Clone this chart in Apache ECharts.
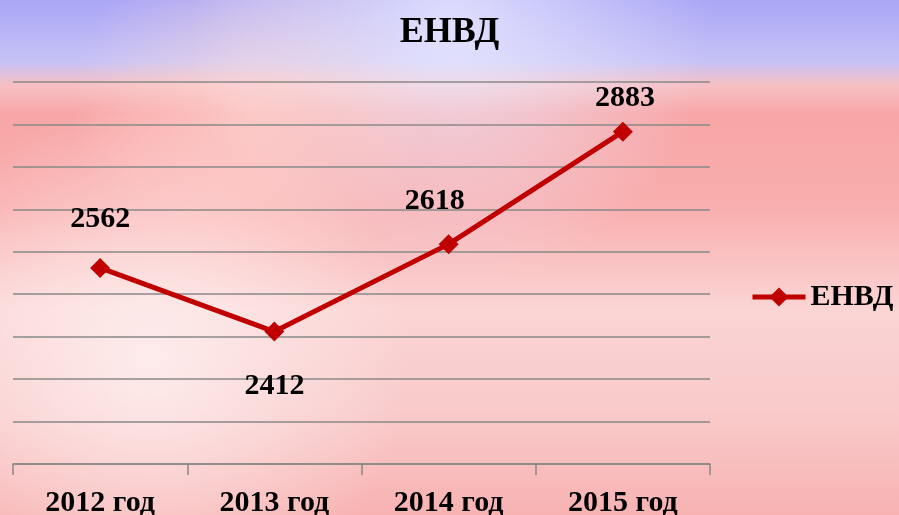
<!DOCTYPE html>
<html>
<head>
    <meta charset="utf-8" />
    <title>ЕНВД</title>
    <script src="https://cdn.jsdelivr.net/npm/echarts@6/dist/echarts.min.js"></script>
    <style type="text/css">
        * { margin: 0; padding: 0 }
        html, body { width: 899px; height: 515px; overflow: hidden; }
        #linecontainer { width: 899px; height: 515px; }
    </style>
</head>
<body>
<div id="linecontainer"></div>
<script>
    // данные
    var years = ["2012 год", "2013 год", "2014 год", "2015 год"];
    var envdValues = [2562, 2412, 2618, 2883];
    var seriesName = "ЕНВД";

    // где стоят подписи значений (только оформление)
    var labelPlace = [
        { position: 'top', distance: 24, offset: [0, 0] },
        { position: 'bottom', distance: 30, offset: [0, 0] },
        { position: 'top', distance: 18, offset: [-14, 0] },
        { position: 'top', distance: 8, offset: [2, 0] }
    ];

    var serif = '"Liberation Serif", "DejaVu Serif", serif';
    var red = '#c00000';

    var seriesData = [];
    for (var i = 0; i < envdValues.length; i++) {
        seriesData.push({
            value: envdValues[i],
            label: labelPlace[i]
        });
    }

    var lineChart = echarts.init(document.getElementById("linecontainer"));

    var option = {
        backgroundColor: {
            type: 'linear', x: 0, y: 0, x2: 0, y2: 1,
            colorStops: [
                { offset: 0, color: '#aaa6f6' },
                { offset: 0.12, color: '#c6c2f6' },
                { offset: 0.165, color: '#f6c0c4' },
                { offset: 0.22, color: '#f8a6a6' },
                { offset: 0.4, color: '#f9aeae' },
                { offset: 0.6, color: '#fbd4d4' },
                { offset: 0.8, color: '#f9caca' },
                { offset: 1, color: '#f8b2b2' }
            ]
        },
        graphic: [
            {
                type: 'circle', shape: { cx: 450, cy: 25, r: 260 }, silent: true, z: -10,
                style: {
                    fill: {
                        type: 'radial', x: 0.5, y: 0.5, r: 0.5,
                        colorStops: [{ offset: 0, color: 'rgba(235,235,255,0.8)' }, { offset: 1, color: 'rgba(235,235,255,0)' }]
                    }
                }
            },
            {
                type: 'circle', shape: { cx: 150, cy: 360, r: 260 }, silent: true, z: -10,
                style: {
                    fill: {
                        type: 'radial', x: 0.5, y: 0.5, r: 0.5,
                        colorStops: [{ offset: 0, color: 'rgba(255,245,245,0.75)' }, { offset: 1, color: 'rgba(255,245,245,0)' }]
                    }
                }
            },
            {
                type: 'circle', shape: { cx: 250, cy: 110, r: 180 }, silent: true, z: -10,
                style: {
                    fill: {
                        type: 'radial', x: 0.5, y: 0.5, r: 0.5,
                        colorStops: [{ offset: 0, color: 'rgba(255,220,215,0.6)' }, { offset: 1, color: 'rgba(255,220,215,0)' }]
                    }
                }
            }
        ],
        title: {
            text: 'ЕНВД',
            left: 'center',
            top: 10,
            textStyle: { fontFamily: serif, fontWeight: 'bold', fontSize: 36, color: '#000' }
        },
        legend: {
            data: [seriesName],
            left: 750,
            top: 282,
            padding: 0,
            itemWidth: 53,
            itemHeight: 24,
            itemGap: 6,
            lineStyle: { width: 5 },
            textStyle: { fontFamily: serif, fontWeight: 'bold', fontSize: 30, color: '#000' }
        },
        grid: {
            left: 13,
            right: 189,
            top: 82,
            bottom: 51,
            outerBoundsMode: 'none'
        },
        xAxis: {
            type: 'category',
            boundaryGap: true,
            data: years,
            axisLine: { lineStyle: { color: '#888', width: 1.5 } },
            axisTick: { show: true, length: 11, lineStyle: { color: '#888', width: 1.5 } },
            axisLabel: {
                margin: 24,
                fontFamily: serif, fontWeight: 'bold', fontSize: 30, color: '#000'
            },
            splitLine: { show: false }
        },
        yAxis: {
            type: 'value',
            min: 2100,
            max: 3000,
            interval: 100,
            axisLine: { show: false },
            axisTick: { show: false },
            axisLabel: { show: false },
            splitLine: { lineStyle: { color: '#888', width: 1.5 } }
        },
        series: [
            {
                name: seriesName,
                type: 'line',
                data: seriesData,
                symbol: 'diamond',
                symbolSize: 20,
                itemStyle: { color: red },
                lineStyle: { color: red, width: 5 },
                label: {
                    show: true,
                    fontFamily: serif, fontWeight: 'bold', fontSize: 30, color: '#000'
                },
                animation: false
            }
        ]
    };

    lineChart.setOption(option);
</script>
</body>
</html>
